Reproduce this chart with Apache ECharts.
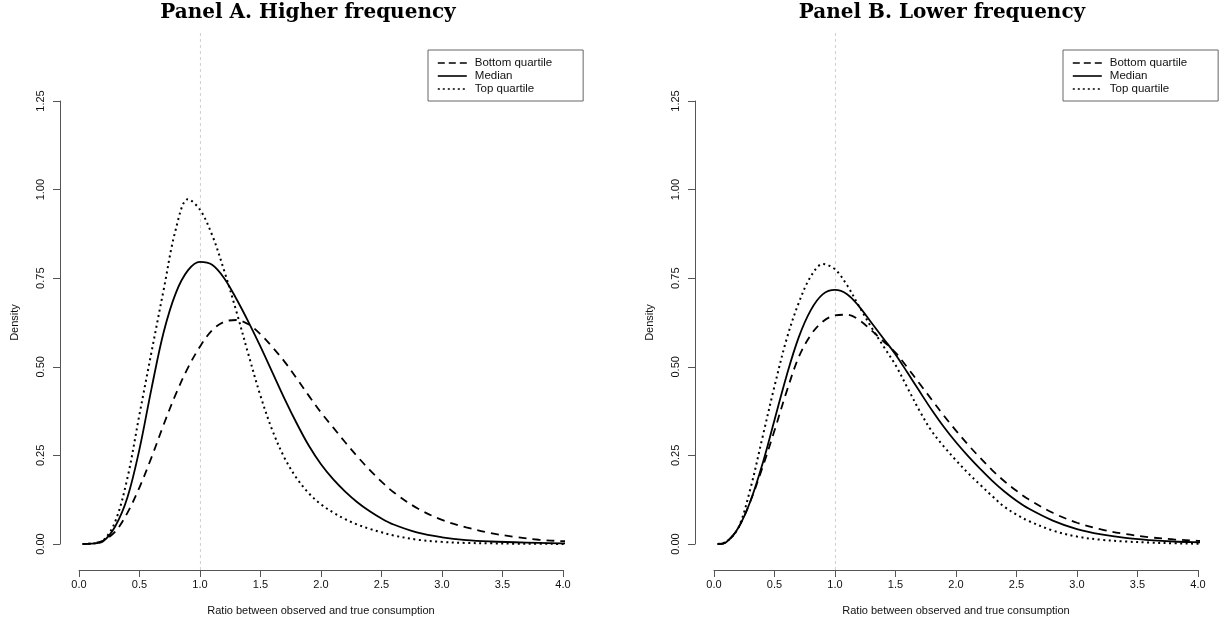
<!DOCTYPE html>
<html><head><meta charset="utf-8">
<script src="https://cdn.jsdelivr.net/npm/echarts@6/dist/echarts.min.js"></script>
<style>html,body{margin:0;padding:0;background:#fff}#c{width:1225px;height:626px}</style>
</head><body><div id="c"></div>
<script>
// x grid (ratio between observed and true consumption)
const xs = [0.03, 0.1, 0.2, 0.3, 0.4, 0.5, 0.6, 0.7, 0.8, 0.9, 1.0, 1.1, 1.2, 1.3, 1.4, 1.5, 1.6, 1.7, 1.8, 1.9, 2.0, 2.1, 2.2, 2.3, 2.4, 2.5, 2.6, 2.8, 3.0, 3.2, 3.4, 3.6, 3.8, 4.0, 4.15];
// Panel A. Higher frequency
const aBottom = [0.000, 0.001, 0.010, 0.035, 0.088, 0.160, 0.245, 0.337, 0.423, 0.497, 0.557, 0.603, 0.627, 0.632, 0.620, 0.592, 0.555, 0.514, 0.467, 0.418, 0.371, 0.329, 0.287, 0.247, 0.210, 0.176, 0.146, 0.100, 0.068, 0.047, 0.031, 0.020, 0.012, 0.008, 0.006];
const aMedian = [0.000, 0.001, 0.008, 0.050, 0.131, 0.268, 0.440, 0.598, 0.708, 0.772, 0.796, 0.788, 0.750, 0.692, 0.627, 0.557, 0.483, 0.409, 0.340, 0.277, 0.225, 0.183, 0.148, 0.118, 0.093, 0.072, 0.055, 0.032, 0.019, 0.011, 0.007, 0.005, 0.003, 0.002, 0.002];
const aTop = [0.000, 0.001, 0.010, 0.064, 0.186, 0.366, 0.543, 0.718, 0.888, 0.973, 0.943, 0.872, 0.771, 0.657, 0.535, 0.418, 0.319, 0.242, 0.185, 0.143, 0.112, 0.089, 0.070, 0.055, 0.043, 0.033, 0.024, 0.012, 0.006, 0.003, 0.002, 0.001, 0.001, 0.000, 0.000];
// Panel B. Lower frequency
const bBottom = [0.000, 0.005, 0.045, 0.120, 0.215, 0.320, 0.430, 0.527, 0.590, 0.628, 0.645, 0.647, 0.632, 0.603, 0.572, 0.540, 0.497, 0.452, 0.407, 0.362, 0.320, 0.280, 0.243, 0.208, 0.177, 0.150, 0.126, 0.088, 0.060, 0.041, 0.028, 0.019, 0.013, 0.009, 0.007];
const bMedian = [0.000, 0.005, 0.045, 0.120, 0.225, 0.350, 0.475, 0.583, 0.660, 0.705, 0.717, 0.705, 0.670, 0.625, 0.580, 0.535, 0.483, 0.430, 0.378, 0.330, 0.287, 0.248, 0.212, 0.178, 0.148, 0.122, 0.100, 0.066, 0.042, 0.027, 0.017, 0.011, 0.007, 0.005, 0.004];
const bTop = [0.000, 0.006, 0.045, 0.155, 0.300, 0.445, 0.578, 0.680, 0.755, 0.790, 0.775, 0.730, 0.670, 0.612, 0.558, 0.505, 0.440, 0.375, 0.318, 0.275, 0.236, 0.200, 0.167, 0.135, 0.105, 0.083, 0.065, 0.038, 0.021, 0.012, 0.007, 0.004, 0.002, 0.001, 0.001];

const seriesNames = ['Bottom quartile', 'Median', 'Top quartile'];
const panelTitles = ['Panel A. Higher frequency', 'Panel B. Lower frequency'];
const xTitle = 'Ratio between observed and true consumption';
const yTitle = 'Density';
const refX = 1.0;

const FONT = "'Liberation Sans', Arial, sans-serif";
const styles = [
  {type: [8, 6], width: 1.8, legendType: [7, 4]},
  {type: 'solid', width: 1.8, legendType: 'solid'},
  {type: [2, 3.5], width: 2, legendType: [2, 3]}
];
const pairs = arr => xs.map((x, i) => [x, arr[i]]);

const chart = echarts.init(document.getElementById('c'), null, {renderer: 'canvas'});

function axesFor(gi, left) {
  return {
    grid: {left: left, top: 101, width: 484, height: 443},
    x: {
      type: 'value', gridIndex: gi, min: 0, max: 4, interval: 0.5, offset: 26,
      name: xTitle, nameLocation: 'middle', nameGap: 35,
      nameTextStyle: {fontFamily: FONT, fontSize: 11, color: '#111'},
      axisLine: {show: true, onZero: false, lineStyle: {color: '#555', width: 1}},
      axisTick: {show: true, length: 7, lineStyle: {color: '#555'}},
      axisLabel: {fontFamily: FONT, fontSize: 11, color: '#111', margin: 9, formatter: v => v.toFixed(1)},
      splitLine: {show: false}
    },
    y: {
      type: 'value', gridIndex: gi, min: 0, max: 1.25, interval: 0.25, offset: 19,
      name: yTitle, nameLocation: 'middle', nameGap: 40, nameRotate: 90,
      nameTextStyle: {fontFamily: FONT, fontSize: 11, color: '#111'},
      axisLine: {show: true, onZero: false, lineStyle: {color: '#555', width: 1}},
      axisTick: {show: true, length: 7, lineStyle: {color: '#555'}},
      axisLabel: {fontFamily: FONT, fontSize: 11, color: '#111', margin: 14, rotate: 90, formatter: v => v.toFixed(2)},
      splitLine: {show: false}
    }
  };
}
const A = axesFor(0, 79), B = axesFor(1, 714);

const hiddenX = gi => ({type: 'value', gridIndex: gi, min: -0.16, max: 4.16, show: false});
const hiddenY = gi => ({type: 'value', gridIndex: gi, min: 0, max: 1, show: false});

function curveSeries(data, k, axisIdx) {
  return {
    type: 'line', name: seriesNames[k], xAxisIndex: axisIdx, yAxisIndex: axisIdx,
    data: pairs(data), symbol: 'none', smooth: 0.35, clip: false, silent: true,
    lineStyle: {color: '#000', width: styles[k].width, type: styles[k].type},
    itemStyle: {color: '#000'}, z: 5
  };
}
function refSeries(axisIdx) {
  return {
    type: 'line', name: 'ref', xAxisIndex: axisIdx, yAxisIndex: axisIdx,
    data: [[refX, 0], [refX, 1]], symbol: 'none', silent: true,
    lineStyle: {color: '#cfcfcf', width: 1, type: [3, 3]}, z: 1
  };
}
function legendFor(left) {
  return {
    data: seriesNames.map((n, k) => ({name: n, lineStyle: {type: styles[k].legendType, width: 1.6}})),
    orient: 'vertical', left: left, top: 50,
    padding: [7, 31, 6, 9], itemGap: 1, itemWidth: 29, itemHeight: 12,
    borderColor: '#666', borderWidth: 1, selectedMode: false,
    itemStyle: {opacity: 0},
    lineStyle: {width: 1.6},
    textStyle: {fontFamily: FONT, fontSize: 11.5, color: '#111', padding: [0, 0, 0, 3]}
  };
}

chart.setOption({
  backgroundColor: '#fff',
  animation: false,
  title: [
    {text: panelTitles[0], left: 308, top: 3, textAlign: 'center', padding: 0,
     textStyle: {fontFamily: "'DejaVu Serif', serif", fontWeight: 'bold', fontSize: 20, color: '#000'}},
    {text: panelTitles[1], left: 942, top: 3, textAlign: 'center', padding: 0,
     textStyle: {fontFamily: "'DejaVu Serif', serif", fontWeight: 'bold', fontSize: 20, color: '#000'}}
  ],
  legend: [legendFor(428), legendFor(1063)],
  grid: [
    A.grid, B.grid,
    {left: 60, top: 30, width: 523, height: 540},
    {left: 695, top: 30, width: 523, height: 540}
  ],
  xAxis: [A.x, B.x, hiddenX(2), hiddenX(3)],
  yAxis: [A.y, B.y, hiddenY(2), hiddenY(3)],
  series: [
    refSeries(2), refSeries(3),
    curveSeries(aBottom, 0, 0), curveSeries(aMedian, 1, 0), curveSeries(aTop, 2, 0),
    curveSeries(bBottom, 0, 1), curveSeries(bMedian, 1, 1), curveSeries(bTop, 2, 1)
  ]
});
</script>
</body></html>
